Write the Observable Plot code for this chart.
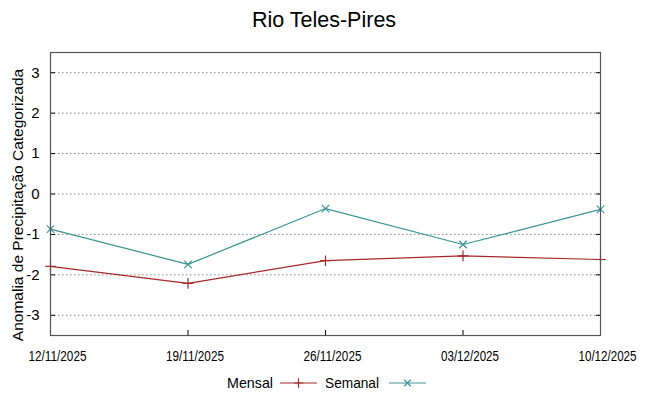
<!DOCTYPE html>
<html>
<head>
<meta charset="utf-8">
<script src="https://cdn.jsdelivr.net/npm/d3@7"></script>
<script src="https://cdn.jsdelivr.net/npm/@observablehq/plot@0.6"></script>
<style>
  html, body { margin: 0; padding: 0; background: #fff; }
  #wrap { position: relative; width: 648px; height: 396px; }
  #overlay { position: absolute; left: 0; top: 0; pointer-events: none; }
</style>
</head>
<body>
<div id="wrap">
  <div id="chart"></div>
</div>
<script>
const titleText = "Rio Teles-Pires";
const yLabelText = "Anomalia de Precipitação Categorizada";
const dates = ["2025-11-12", "2025-11-19", "2025-11-26", "2025-12-03", "2025-12-10"];
const mensal = [-1.79, -2.21, -1.65, -1.53, -1.62];
const semanal = [-0.87, -1.74, -0.36, -1.25, -0.38];
const yTicks = [-3, -2, -1, 0, 1, 2, 3];
const seriesNames = ["Mensal", "Semanal"];
const seriesColors = ["#a82828", "#3a9494"];
const seriesSymbols = ["plus", "times"];

const parse = d3.utcParse("%Y-%m-%d");
const fmt = d3.utcFormat("%d/%m/%Y");
const xDates = dates.map(parse);
const data = [];
seriesNames.forEach((s, i) => {
  const vals = i === 0 ? mensal : semanal;
  xDates.forEach((d, j) => data.push({series: s, date: d, value: vals[j]}));
});

const font = "Liberation Sans, Arial, sans-serif";
const chart = Plot.plot({
  width: 648,
  height: 396,
  marginTop: 52,
  marginBottom: 61,
  marginLeft: 50,
  marginRight: 48,
  style: {fontFamily: font, background: "#fff", color: "#000"},
  x: {type: "utc", domain: [xDates[0], xDates[xDates.length - 1]]},
  y: {domain: [-3.5, 3.5]},
  color: {domain: seriesNames, range: seriesColors},
  symbol: {domain: seriesNames, range: seriesSymbols},
  marks: [
    Plot.gridY(yTicks, {stroke: "#888", strokeOpacity: 1, strokeDasharray: "1.5,2.5", strokeWidth: 1}),
    Plot.axisY(yTicks, {anchor: "left", tickSize: 0, tickPadding: 11, fontSize: 15, tickFormat: d => String(d), label: null}),
    Plot.axisY(yTicks, {anchor: "left", tickSize: 5, dx: 5, text: null, label: null, stroke: "#000"}),
    Plot.axisY(yTicks, {anchor: "right", tickSize: 5, dx: -5, text: null, label: null, stroke: "#000"}),
    Plot.axisX(xDates, {anchor: "bottom", tickSize: 0, tickPadding: 16, dx: 7, tickFormat: fmt, fontSize: 14, label: null}),
    Plot.axisX(xDates.slice(1, -1), {anchor: "bottom", tickSize: 5, dy: -5, text: null, label: null, stroke: "#000"}),
    Plot.line(data, {x: "date", y: "value", z: "series", stroke: "series", strokeWidth: 1.2}),
    Plot.dot(data, {x: "date", y: "value", stroke: "series", symbol: "series", r: 3.5, strokeWidth: 1.2}),
    Plot.frame({stroke: "#555", strokeWidth: 1.2})
  ]
});
// narrow date labels (reference uses a condensed face)
chart.querySelectorAll("text").forEach(t => {
  if (/\d\d\/\d\d\/\d{4}/.test(t.textContent)) {
    t.setAttribute("textLength", 58);
    t.setAttribute("lengthAdjust", "spacingAndGlyphs");
  }
});
document.getElementById("chart").appendChild(chart);

// overlay: title, y label, legend
const ov = d3.select("#wrap").append("svg").attr("id", "overlay")
  .attr("width", 648).attr("height", 396).style("font-family", font);
ov.append("text").attr("x", 324).attr("y", 27).attr("text-anchor", "middle")
  .attr("font-size", 21.5).attr("fill", "#000").text(titleText);
ov.append("text").attr("transform", "translate(23,205) rotate(-90)").attr("text-anchor", "middle")
  .attr("font-size", 15.5).attr("fill", "#000").text(yLabelText);

const legendLayout = [
  {textX: 227, textW: 46, lineX1: 280, lineX2: 317},
  {textX: 325, textW: 54, lineX1: 389, lineX2: 426}
];
const legY = 383;
seriesNames.forEach((s, i) => {
  const L = legendLayout[i];
  ov.append("text").attr("x", L.textX).attr("y", legY + 5).attr("font-size", 15)
    .attr("textLength", L.textW).attr("lengthAdjust", "spacingAndGlyphs").attr("fill", "#000").text(s);
  ov.append("line").attr("x1", L.lineX1).attr("x2", L.lineX2).attr("y1", legY).attr("y2", legY)
    .attr("stroke", seriesColors[i]).attr("stroke-width", 1.2);
  const sym = (i === 0 ? d3.symbolPlus : d3.symbolTimes);
  ov.append("path").attr("d", d3.symbol(sym, 30)())
    .attr("transform", `translate(${(L.lineX1 + L.lineX2) / 2},${legY})`)
    .attr("fill", "none").attr("stroke", seriesColors[i]).attr("stroke-width", 1.2);
});
</script>
</body>
</html>
